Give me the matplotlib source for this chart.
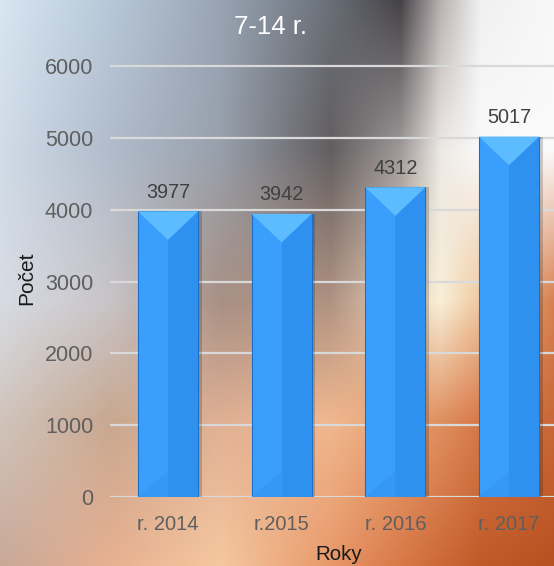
import numpy as np
import matplotlib
matplotlib.use("Agg")
import matplotlib.pyplot as plt
from matplotlib.colors import to_rgb
from matplotlib.patches import Polygon

plt.rcParams['font.family'] = ['Liberation Sans', 'DejaVu Sans']

# data
categories = ["r. 2014", "r.2015", "r. 2016", "r. 2017"]
values = [3977, 3942, 4312, 5017]
yticks = [0, 1000, 2000, 3000, 4000, 5000, 6000]
title = "7-14 r."
xlabel = "Roky"
ylabel = "Počet"

W, H = 554, 566

# background photo approximated by a colour grid
bg_x = [0, 110, 220, 330, 400, 440, 480, 554]
bg_y = [0, 150, 300, 420, 566]
bg_rows = [
    ["#d8e6f2", "#b8c8d8", "#98a4b4", "#6a7078", "#454246", "#b8b0b0", "#f0f0f0", "#f8f8f8"],
    ["#d0dce8", "#b0bccb", "#98a0ac", "#625e60", "#a09a9a", "#ece8e4", "#fafafa", "#fafafa"],
    ["#d8dce4", "#c8c4c8", "#a89084", "#b09282", "#e8d0b8", "#f8f0d8", "#f0c8a0", "#d88050"],
    ["#d0c4bc", "#c8a890", "#e0b094", "#f0b890", "#e8a070", "#e09060", "#d87848", "#c86838"],
    ["#c8a898", "#e8b090", "#f5c8a0", "#e89868", "#d87848", "#cc6838", "#c05a28", "#b85020"],
]
ctrl = np.array([[to_rgb(c) for c in row] for row in bg_rows])
gx = np.arange(W)
gy = np.arange(H)
rowimg = np.array([[np.interp(gx, bg_x, ctrl[i, :, k]) for k in range(3)] for i in range(len(bg_y))])
img = np.empty((H, W, 3))
for k in range(3):
    for j in range(W):
        img[:, j, k] = np.interp(gy, bg_y, rowimg[:, k, j])

fig = plt.figure(figsize=(W / 100, H / 100), dpi=100)
bg = fig.add_axes([0, 0, 1, 1])
bg.imshow(img, aspect='auto', extent=[0, W, H, 0])
bg.axis('off')

ymax = 6100
px_per_unit = 431 / 6000
ax_h = ymax * px_per_unit
ax = fig.add_axes([110 / W, 1 - 497 / H, (567 - 110) / W, ax_h / H])
ax.patch.set_alpha(0)
for s in ax.spines.values():
    s.set_visible(False)

x = np.arange(len(categories))
bw = 0.53
ax.set_xlim(-0.51, len(categories) - 1 + 0.51)
ax.set_ylim(0, ymax)
ax.set_axisbelow(True)
ax.yaxis.grid(True, color='#d9d9d9', linewidth=1.6)
ax.set_yticks(yticks)
ax.set_xticks(x)
ax.set_xticklabels(categories)
ax.tick_params(length=0, labelsize=14.5, labelcolor='#5f5f5f')
ax.tick_params(axis='y', pad=12, labelsize=15.5)
ax.tick_params(axis='x', pad=13)

# shadow
ax.bar(x + 0.03, values, bw, color='#000000', alpha=0.18, zorder=2)
bars = ax.bar(x, values, bw, color='#3a9ffc', edgecolor='#1d6fc4', linewidth=0.8, zorder=3)

# bevel highlights, sized from the data transform
fig.canvas.draw()
p0 = ax.transData.transform((0, 0))
p1 = ax.transData.transform((bw / 2, 0))
half_px = p1[0] - p0[0]
h_pix = ax.transData.transform((0, 1))[1] - p0[1]
d = half_px / h_pix * 0.95
for xi, v in zip(x, values):
    xl, xr = xi - bw / 2, xi + bw / 2
    ax.add_patch(Polygon([(xi, 0), (xr, 0), (xr, v), (xi, v)], closed=True,
                         facecolor='#2f91ef', edgecolor='none', zorder=3.5))
    ax.add_patch(Polygon([(xl, v), (xr, v), (xi, v - d)], closed=True,
                         facecolor='#5cbcff', edgecolor='none', zorder=4))
    ax.add_patch(Polygon([(xl, 0), (xi, d * 0.9), (xi, 0)], closed=True,
                         facecolor='#3598f4', edgecolor='none', zorder=4))
    ax.annotate(str(v), (xi, v), xytext=(0, 7), textcoords='offset points',
                ha='center', va='bottom', fontsize=14.3, color='#404040', zorder=6)

ax.set_xlabel(xlabel, fontsize=14.8, color='#1a1a1a', labelpad=8)
ax.set_ylabel(ylabel, fontsize=15, color='#1a1a1a', labelpad=6)

fig.text(270 / W, 1 - 27 / H, title, ha='center', va='center', fontsize=18.5, color='white')

fig.savefig("out.png", dpi=100)
